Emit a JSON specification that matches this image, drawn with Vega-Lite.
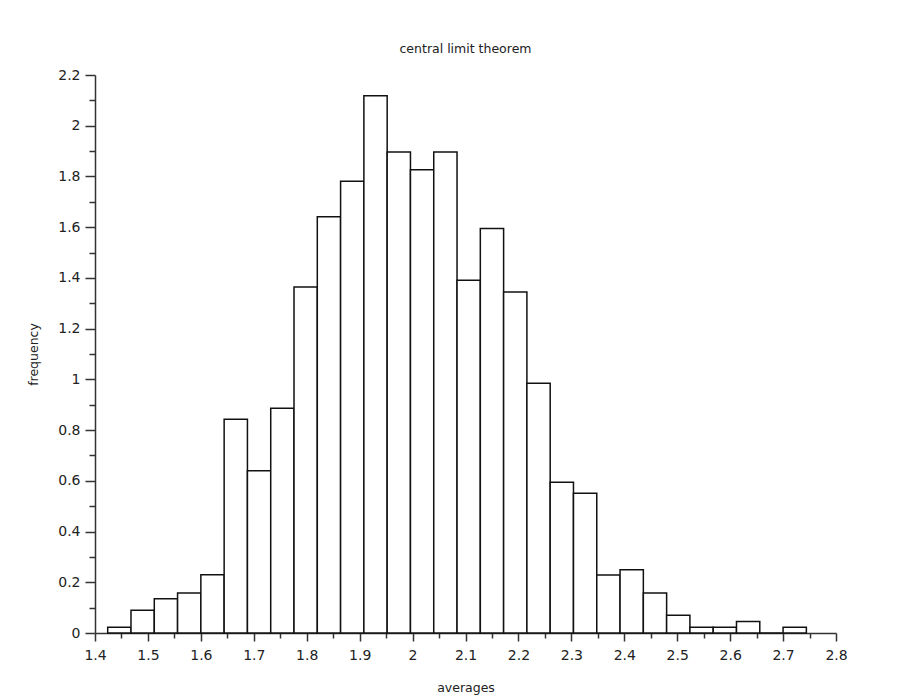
{
  "$schema": "https://vega.github.io/schema/vega-lite/v6.json",
  "autosize": "none",
  "width": 741,
  "height": 558,
  "padding": {"left": 95, "top": 75, "right": 82, "bottom": 64},
  "background": "white",
  "title": {"text": "central limit theorem", "font": "DejaVu Sans", "fontSize": 12.5, "fontWeight": "normal", "color": "#222", "offset": 13},
  "config": {"view": {"stroke": null}, "axis": {"labelFont": "DejaVu Sans", "titleFont": "DejaVu Sans", "labelColor": "#222", "titleColor": "#222", "domainColor": "#333", "tickColor": "#333", "domainWidth": 1.5, "tickWidth": 1.5, "grid": false, "labelFontSize": 14, "titleFontSize": 12.5, "titleFontWeight": "normal"}},
  "data": {"values": [
    {"bin_start": 1.424, "bin_end": 1.468, "frequency": 0.0225},
    {"bin_start": 1.468, "bin_end": 1.512, "frequency": 0.09},
    {"bin_start": 1.512, "bin_end": 1.556, "frequency": 0.135},
    {"bin_start": 1.556, "bin_end": 1.600, "frequency": 0.158},
    {"bin_start": 1.600, "bin_end": 1.644, "frequency": 0.23},
    {"bin_start": 1.644, "bin_end": 1.688, "frequency": 0.843},
    {"bin_start": 1.688, "bin_end": 1.732, "frequency": 0.64},
    {"bin_start": 1.732, "bin_end": 1.776, "frequency": 0.886},
    {"bin_start": 1.776, "bin_end": 1.820, "frequency": 1.364},
    {"bin_start": 1.820, "bin_end": 1.864, "frequency": 1.641},
    {"bin_start": 1.864, "bin_end": 1.908, "frequency": 1.781},
    {"bin_start": 1.908, "bin_end": 1.952, "frequency": 2.118},
    {"bin_start": 1.952, "bin_end": 1.996, "frequency": 1.896},
    {"bin_start": 1.996, "bin_end": 2.040, "frequency": 1.826},
    {"bin_start": 2.040, "bin_end": 2.084, "frequency": 1.896},
    {"bin_start": 2.084, "bin_end": 2.128, "frequency": 1.391},
    {"bin_start": 2.128, "bin_end": 2.172, "frequency": 1.595},
    {"bin_start": 2.172, "bin_end": 2.216, "frequency": 1.344},
    {"bin_start": 2.216, "bin_end": 2.260, "frequency": 0.985},
    {"bin_start": 2.260, "bin_end": 2.304, "frequency": 0.594},
    {"bin_start": 2.304, "bin_end": 2.348, "frequency": 0.551},
    {"bin_start": 2.348, "bin_end": 2.392, "frequency": 0.229},
    {"bin_start": 2.392, "bin_end": 2.436, "frequency": 0.249},
    {"bin_start": 2.436, "bin_end": 2.480, "frequency": 0.158},
    {"bin_start": 2.480, "bin_end": 2.524, "frequency": 0.07},
    {"bin_start": 2.524, "bin_end": 2.568, "frequency": 0.0225},
    {"bin_start": 2.568, "bin_end": 2.612, "frequency": 0.0225},
    {"bin_start": 2.612, "bin_end": 2.656, "frequency": 0.045},
    {"bin_start": 2.656, "bin_end": 2.700, "frequency": 0},
    {"bin_start": 2.700, "bin_end": 2.744, "frequency": 0.0225}
  ]},
  "mark": {"type": "rect", "fill": "white", "stroke": "#111", "strokeWidth": 1.5},
  "encoding": {
    "x": {"field": "bin_start", "type": "quantitative", "scale": {"domain": [1.4, 2.8], "nice": false, "zero": false},
      "axis": {"title": "averages", "values": [1.4,1.45,1.5,1.55,1.6,1.65,1.7,1.75,1.8,1.85,1.9,1.95,2,2.05,2.1,2.15,2.2,2.25,2.3,2.35,2.4,2.45,2.5,2.55,2.6,2.65,2.7,2.75,2.8],
        "labelExpr": "round(datum.value*100) % 10 == 0 ? format(datum.value, '~g') : ''",
        "tickSize": {"condition": {"test": "round(datum.value*100) % 10 == 0", "value": 8}, "value": 5},
        "labelOverlap": false, "labelFlush": false, "labelPadding": 7, "titlePadding": 19}},
    "x2": {"field": "bin_end"},
    "y": {"field": "frequency", "type": "quantitative", "scale": {"domain": [0, 2.2], "nice": false},
      "axis": {"title": "frequency", "values": [0,0.1,0.2,0.3,0.4,0.5,0.6,0.7,0.8,0.9,1,1.1,1.2,1.3,1.4,1.5,1.6,1.7,1.8,1.9,2,2.1,2.2],
        "labelExpr": "round(datum.value*10) % 2 == 0 ? format(datum.value, '~g') : ''",
        "tickSize": {"condition": {"test": "round(datum.value*10) % 2 == 0", "value": 10}, "value": 6},
        "labelOverlap": false, "labelFlush": false, "labelPadding": 5, "titlePadding": 17}},
    "y2": {"datum": 0}
  }
}
